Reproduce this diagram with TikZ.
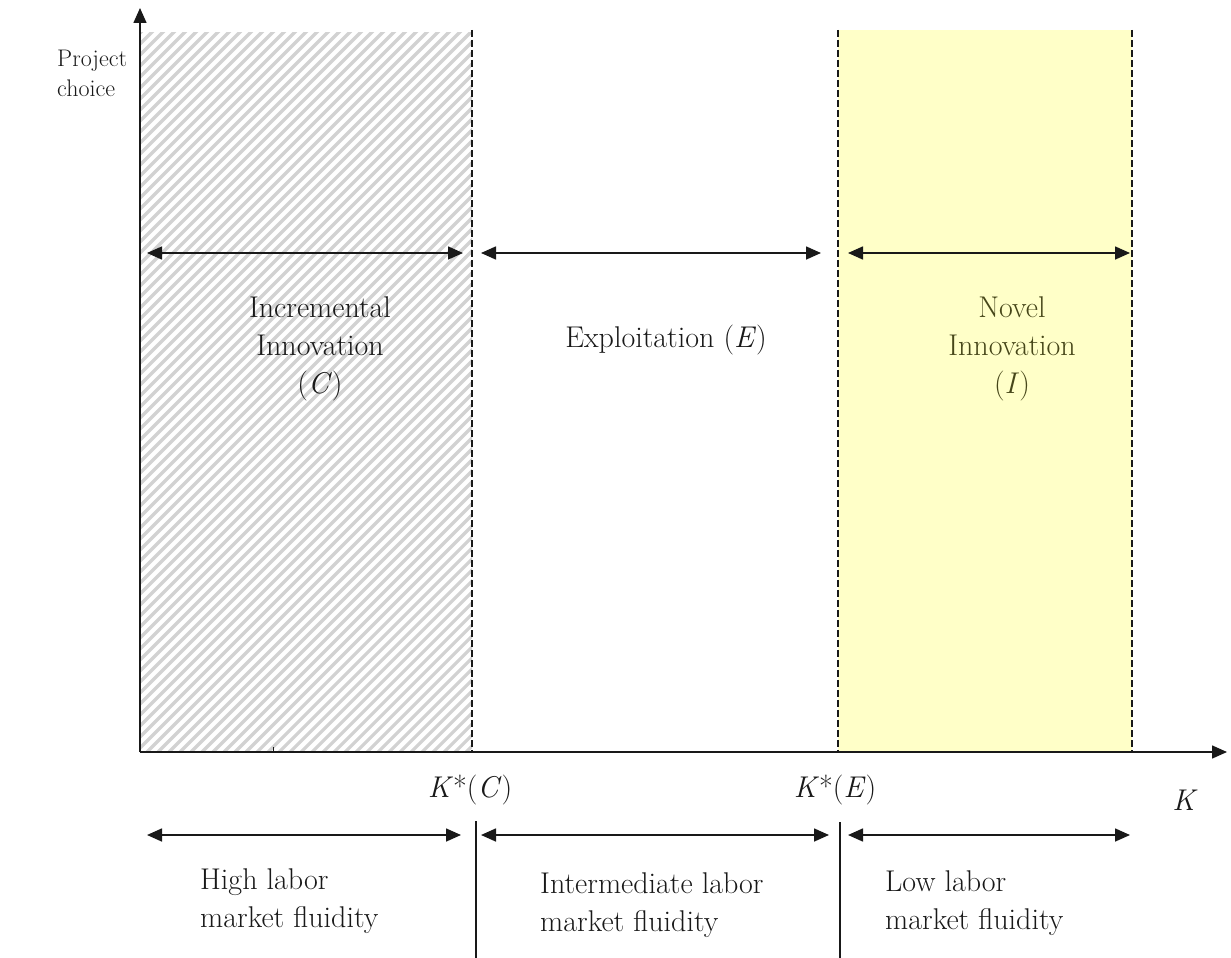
\documentclass[tikz,border=0pt]{standalone}
\usetikzlibrary{arrows.meta}
\definecolor{hatchgray}{RGB}{210,210,210}
\definecolor{novelfill}{RGB}{255,255,200}
\definecolor{oliveink}{RGB}{70,70,25}
\definecolor{ink}{RGB}{25,25,25}
\begin{document}
\begin{tikzpicture}[x=1pt,y=-1pt,
  font=\fontsize{30}{38}\selectfont,
  >={Triangle[length=15pt,width=13pt]},
  dbl/.style={<->, line width=1.6pt, draw=ink},
  axisline/.style={->, line width=1.5pt, draw=ink},
  divline/.style={line width=1.1pt, draw=ink, dash pattern=on 7pt off 3pt},
  sepline/.style={line width=1.3pt, draw=ink},
  lbl/.style={inner sep=0pt, align=center, text=ink},
  lbll/.style={inner sep=0pt, align=left, anchor=north west, text=ink}]
\useasboundingbox (0,0) rectangle (1231,958);

% regions
\fill[novelfill] (838,30) rectangle (1132,752);
\begin{scope}
  \clip (140,33) rectangle (472,752);
  \foreach \x in {-590,-579,...,480}
    \draw[hatchgray, line width=3.2pt] (\x,752) -- ++(730,-730);
\end{scope}

% axes
\coordinate (O) at (140,752);
\coordinate (ytop) at (140,8);
\coordinate (xend) at (1227,752);
\draw[axisline] (O) -- (ytop);
\draw[axisline] (O) -- (xend);
\draw[line width=1pt, draw=ink] (273,752) -- (273,747);

% dashed dividers
\coordinate (d1t) at (472,30); \coordinate (d1b) at (472,752);
\coordinate (d2t) at (838,30); \coordinate (d2b) at (838,752);
\coordinate (d3t) at (1132,30); \coordinate (d3b) at (1132,752);
\draw[divline] (d1t) -- (d1b);
\draw[divline] (d2t) -- (d2b);
\draw[divline] (d3t) -- (d3b);

% upper range arrows
\coordinate (a1l) at (147,253); \coordinate (a1r) at (463,253);
\coordinate (a2l) at (481,253); \coordinate (a2r) at (821,253);
\coordinate (a3l) at (848,253); \coordinate (a3r) at (1130,253);
\draw[dbl] (a1l) -- (a1r);
\draw[dbl] (a2l) -- (a2r);
\draw[dbl] (a3l) -- (a3r);

% region labels
\node[lbll, align=left, font=\fontsize{24}{30}\selectfont] (ylab) at (57,50) {Project\\choice};
\node[lbl] (inc) at (320,349) {Incremental\\Innovation\\(\textit{C})};
\node[lbl] (expl) at (666,340) {Exploitation (\textit{E})};
\node[lbl, text=oliveink] (nov) at (1012,349) {Novel\\Innovation\\(\textit{I})};

% axis labels
\node[lbl] (kc) at (470,790) {\textit{K}*(\textit{C})};
\node[lbl] (ke) at (835,790) {\textit{K}*(\textit{E})};
\node[lbl] (kk) at (1185,800) {\textit{K}};

% lower range arrows
\coordinate (b1l) at (147,835); \coordinate (b1r) at (461,835);
\coordinate (b2l) at (481,835); \coordinate (b2r) at (829,835);
\coordinate (b3l) at (848,835); \coordinate (b3r) at (1130,835);
\draw[dbl] (b1l) -- (b1r);
\draw[dbl] (b2l) -- (b2r);
\draw[dbl] (b3l) -- (b3r);

% separators
\coordinate (s1t) at (476,821); \coordinate (s1b) at (476,958);
\coordinate (s2t) at (840,822); \coordinate (s2b) at (840,958);
\draw[sepline] (s1t) -- (s1b);
\draw[sepline] (s2t) -- (s2b);

% fluidity labels
\node[lbll] (hi) at (200,868) {High labor\\market fluidity};
\node[lbll] (mid) at (540,872) {Intermediate labor\\market fluidity};
\node[lbll] (lo) at (885,870) {Low labor\\market fluidity};
\end{tikzpicture}
\end{document}
